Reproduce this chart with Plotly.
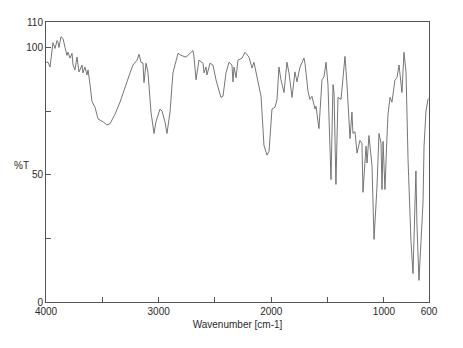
import plotly.graph_objects as go

wavenumber = [4000, 3982, 3964, 3947, 3938, 3920, 3902, 3893, 3885, 3867, 3849, 3831, 3814, 3805,
              3787, 3769, 3760, 3743, 3725, 3707, 3680, 3672, 3654, 3636, 3627, 3609, 3592, 3565,
              3538, 3494, 3459, 3432, 3387, 3343, 3299, 3254, 3228, 3192, 3174, 3157, 3139, 3130,
              3112, 3095, 3068, 3041, 3024, 2988, 2970, 2944, 2926, 2899, 2873, 2828, 2802, 2757,
              2695, 2686, 2668, 2642, 2606, 2597, 2580, 2571, 2544, 2518, 2491, 2447, 2429, 2402,
              2376, 2349, 2340, 2331, 2313, 2296, 2260, 2233, 2198, 2171, 2154, 2118, 2091, 2065,
              2038, 2020, 1994, 1967, 1949, 1932, 1914, 1887, 1861, 1843, 1816, 1790, 1772, 1745,
              1710, 1701, 1674, 1657, 1639, 1612, 1603, 1577, 1568, 1550, 1532, 1514, 1497, 1470,
              1452, 1443, 1426, 1408, 1381, 1346, 1328, 1301, 1284, 1275, 1257, 1239, 1213, 1195,
              1186, 1159, 1150, 1133, 1106, 1088, 1062, 1044, 1026, 1017, 1008, 991, 973, 964,
              946, 929, 902, 884, 866, 840, 822, 804, 786, 778, 760, 742, 733, 716, 707, 689,
              671, 653, 644, 627, 609, 600]
transmittance = [94.2, 94.2, 92.3, 98.8, 101.9, 99.6, 102.7, 101.9, 100.0, 104.2, 103.5, 100.0, 96.9, 98.1,
                 95.8, 97.7, 93.1, 91.2, 96.2, 90.4, 93.1, 90.0, 92.3, 89.2, 91.2, 85.4, 78.8, 76.5,
                 71.9, 70.8, 69.6, 70.0, 73.8, 78.5, 84.6, 90.0, 93.1, 95.0, 97.3, 94.2, 93.8, 86.2,
                 93.8, 90.4, 74.6, 66.2, 70.8, 75.8, 75.0, 70.8, 66.2, 74.6, 90.0, 97.7, 96.9, 96.2,
                 98.8, 96.2, 87.3, 95.0, 93.8, 90.0, 92.3, 89.2, 93.8, 93.1, 87.3, 80.4, 80.8, 90.0,
                 94.2, 93.1, 86.5, 92.3, 88.1, 95.0, 95.8, 98.1, 96.2, 91.9, 94.2, 86.2, 80.8, 61.5,
                 57.7, 59.2, 75.8, 76.5, 79.6, 92.3, 87.3, 82.3, 94.2, 90.0, 80.4, 90.4, 86.5, 92.3,
                 95.8, 93.8, 82.7, 79.6, 80.8, 75.8, 76.9, 68.1, 74.6, 87.3, 88.5, 94.2, 85.4, 48.1,
                 85.4, 82.3, 46.2, 80.4, 79.6, 96.5, 85.4, 64.2, 74.6, 66.2, 66.9, 58.5, 63.5, 62.3,
                 43.1, 61.2, 54.6, 65.4, 53.5, 24.6, 45.0, 66.2, 62.3, 44.2, 63.1, 44.2, 65.0, 73.8,
                 80.4, 78.5, 87.3, 88.1, 93.1, 82.3, 98.1, 90.4, 55.8, 44.2, 23.8, 11.2, 27.7, 51.5, 30.4, 8.5,
                 23.8, 39.2, 61.2, 75.0, 79.6, 80.0]

x_tick_values = [4000, 3500, 3000, 2500, 2000, 1500, 1000, 600]
x_tick_labels = ["4000", "", "3000", "", "2000", "", "1000", "600"]
y_tick_values = [0, 25, 50, 75, 100, 110]
y_tick_labels = ["0", "", "50", "", "100", "110"]

fig = go.Figure()
fig.add_trace(go.Scatter(x=wavenumber, y=transmittance, mode="lines",
                         line=dict(color="#666666", width=0.9), showlegend=False,
                         hoverinfo="skip"))

font = dict(family="Liberation Sans, Arial, sans-serif", size=10, color="#2a2a2a")
fig.update_layout(
    width=455, height=340,
    margin=dict(l=38, r=34, t=8, b=46),
    paper_bgcolor="white", plot_bgcolor="white",
    font=font,
    xaxis=dict(range=[4000, 600], tickvals=x_tick_values, ticktext=x_tick_labels,
               ticks="inside", ticklen=5, tickcolor="#555555",
               showline=True, mirror=True, linecolor="#555555", linewidth=1,
               showgrid=False, zeroline=False,
               title=dict(text="Wavenumber [cm-1]", standoff=4, font=font)),
    yaxis=dict(range=[0, 110], tickvals=y_tick_values, ticktext=y_tick_labels,
               ticks="inside", ticklen=5, tickcolor="#555555",
               showline=True, mirror=True, linecolor="#555555", linewidth=1,
               showgrid=False, zeroline=False),
    annotations=[dict(text="%T", xref="paper", yref="paper", x=-0.063, y=0.486,
                      showarrow=False, font=font, xanchor="center", yanchor="middle")],
)

fig.write_html("out.html")
